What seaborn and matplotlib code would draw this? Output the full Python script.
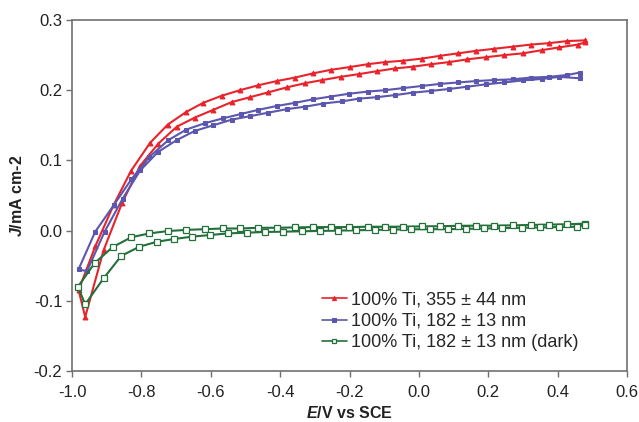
import numpy as np
import pandas as pd
import matplotlib
matplotlib.use("Agg")
import matplotlib.pyplot as plt
import seaborn as sns

# ---------------- data ----------------
# 100% Ti, 355 +/- 44 nm  (red)
red_up_x = [-0.981, -0.933, -0.880, -0.830, -0.775, -0.724, -0.671, -0.622, -0.569, -0.516,
            -0.463, -0.410, -0.357, -0.305, -0.254, -0.199, -0.148, -0.098, -0.045, 0.008,
            0.061, 0.113, 0.164, 0.217, 0.270, 0.323, 0.375, 0.428, 0.478]
red_up_y = [-0.085, -0.0225, 0.0365, 0.085, 0.125, 0.151, 0.169, 0.182, 0.192, 0.200,
            0.207, 0.213, 0.218, 0.224, 0.229, 0.233, 0.237, 0.240, 0.242, 0.245,
            0.249, 0.2525, 0.256, 0.259, 0.262, 0.265, 0.267, 0.270, 0.271]
red_lo_x = [-0.962, -0.909, -0.856, -0.804, -0.751, -0.698, -0.646, -0.593, -0.540, -0.487,
            -0.434, -0.381, -0.328, -0.278, -0.226, -0.172, -0.122, -0.069, -0.018, 0.035,
            0.087, 0.140, 0.193, 0.246, 0.300, 0.354, 0.404, 0.459, 0.478]
red_lo_y = [-0.123, -0.028, 0.039, 0.092, 0.124, 0.148, 0.161, 0.172, 0.183, 0.190,
            0.197, 0.204, 0.210, 0.2145, 0.219, 0.223, 0.227, 0.231, 0.2335, 0.237,
            0.240, 0.244, 0.247, 0.250, 0.2525, 0.257, 0.261, 0.265, 0.268]

# 100% Ti, 182 +/- 13 nm  (blue)
blue_up_x = [-0.981, -0.933, -0.880, -0.829, -0.777, -0.722, -0.670, -0.617, -0.564, -0.514,
             -0.463, -0.410, -0.357, -0.306, -0.254, -0.201, -0.148, -0.098, -0.045, 0.008,
             0.061, 0.113, 0.164, 0.217, 0.270, 0.323, 0.375, 0.428, 0.463]
blue_up_y = [-0.055, -0.0015, 0.036, 0.073, 0.105, 0.129, 0.144, 0.153, 0.160, 0.166,
             0.172, 0.1775, 0.182, 0.187, 0.191, 0.195, 0.198, 0.200, 0.203, 0.206,
             0.209, 0.211, 0.213, 0.2145, 0.2155, 0.218, 0.219, 0.2217, 0.225]
blue_lo_x = [-0.957, -0.906, -0.854, -0.803, -0.752, -0.698, -0.646, -0.593, -0.540, -0.487,
             -0.434, -0.381, -0.328, -0.276, -0.223, -0.172, -0.122, -0.069, -0.018, 0.035,
             0.087, 0.140, 0.193, 0.246, 0.300, 0.354, 0.404, 0.463]
blue_lo_y = [-0.058, -0.0015, 0.0455, 0.086, 0.112, 0.129, 0.142, 0.150, 0.158, 0.163,
             0.168, 0.173, 0.1765, 0.181, 0.184, 0.188, 0.190, 0.193, 0.1965, 0.199,
             0.2017, 0.205, 0.2084, 0.211, 0.214, 0.216, 0.219, 0.217]

# 100% Ti, 182 +/- 13 nm (dark)  (green)
green_up_x = [-0.983, -0.935, -0.883, -0.829, -0.777, -0.722, -0.670, -0.617, -0.566, -0.516,
              -0.463, -0.410, -0.357, -0.305, -0.254, -0.201, -0.148, -0.098, -0.045, 0.008,
              0.061, 0.113, 0.164, 0.217, 0.270, 0.323, 0.375, 0.428, 0.478]
green_up_y = [-0.080, -0.0465, -0.0235, -0.0095, -0.004, -0.0006, 0.001, 0.002, 0.003, 0.003,
              0.004, 0.004, 0.0045, 0.005, 0.005, 0.005, 0.0055, 0.0055, 0.0056, 0.006,
              0.0062, 0.0068, 0.007, 0.007, 0.0075, 0.008, 0.0085, 0.009, 0.010]
green_lo_x = [-0.962, -0.909, -0.858, -0.806, -0.756, -0.706, -0.655, -0.602, -0.550, -0.497,
              -0.444, -0.391, -0.338, -0.285, -0.232, -0.180, -0.127, -0.074, -0.022, 0.031,
              0.083, 0.136, 0.188, 0.240, 0.296, 0.350, 0.405, 0.455, 0.478]
green_lo_y = [-0.105, -0.068, -0.036, -0.023, -0.016, -0.012, -0.0087, -0.0063, -0.004, -0.003,
              -0.002, -0.0015, -0.001, -0.0005, 0.0, 0.0005, 0.001, 0.0015, 0.0018, 0.002,
              0.002, 0.0025, 0.003, 0.0035, 0.004, 0.0045, 0.005, 0.0055, 0.008]

labels = ["100% Ti, 355 \u00b1 44 nm",
          "100% Ti, 182 \u00b1 13 nm",
          "100% Ti, 182 \u00b1 13 nm (dark)"]
x_ticks = [-1.0, -0.8, -0.6, -0.4, -0.2, 0.0, 0.2, 0.4, 0.6]
y_ticks = [-0.2, -0.1, 0.0, 0.1, 0.2, 0.3]


def loop(up_x, up_y, lo_x, lo_y):
    # sweep: upper branch right->left, then lower branch left->right
    xs = list(reversed(up_x)) + list(lo_x)
    ys = list(reversed(up_y)) + list(lo_y)
    return pd.DataFrame({"E": xs, "J": ys})


sns.set_style("white")
plt.rcParams["font.family"] = ["Liberation Sans", "DejaVu Sans"]
plt.rcParams["mathtext.fontset"] = "custom"
plt.rcParams["mathtext.it"] = "Liberation Sans:italic:bold"
plt.rcParams["mathtext.rm"] = "Liberation Sans:bold"

fig = plt.figure(figsize=(6.39, 4.22), dpi=100)
ax = fig.add_axes([0.1127, 0.1209, 0.8686, 0.8317])

red = "#E8232B"
blue = "#5B57AE"
green = "#23703A"

styles = [
    (loop(red_up_x, red_up_y, red_lo_x, red_lo_y), red,
     dict(marker="^", markersize=3.5, markerfacecolor=red, markeredgecolor=red)),
    (loop(blue_up_x, blue_up_y, blue_lo_x, blue_lo_y), blue,
     dict(marker="s", markersize=3.5, markerfacecolor=blue, markeredgecolor=blue)),
    (loop(green_up_x, green_up_y, green_lo_x, green_lo_y), green,
     dict(marker="s", markersize=4, markerfacecolor="white", markeredgecolor=green,
          markeredgewidth=0.9)),
]

for (df, c, mk), lab in zip(styles, labels):
    sns.lineplot(data=df, x="E", y="J", sort=False, estimator=None, color=c,
                 linewidth=1.5, label=lab, ax=ax, **mk)

ax.set_xlim(-1.0, 0.6)
ax.set_ylim(-0.2, 0.3)
ax.set_xticks(x_ticks)
ax.set_yticks(y_ticks)
ax.set_xticklabels([f"{v:.1f}" for v in x_ticks])
ax.set_yticklabels([f"{v:.1f}" for v in y_ticks])
ax.tick_params(axis="both", which="both", direction="out", length=4, width=1,
               color="#707070", labelsize=12, labelcolor="#222222")
ax.tick_params(axis="x", pad=6)
ax.tick_params(axis="y", pad=3)
ax.tick_params(top=False, right=False, bottom=True, left=True)
for s in ax.spines.values():
    s.set_color("#707070")
    s.set_linewidth(1.2)

ax.set_xlabel(r"$\mathit{E}$/V vs SCE", fontsize=11.5, fontweight="bold",
              color="#222222", labelpad=4)
ax.set_ylabel(r"$\mathit{J}$/mA cm-2", fontsize=11.5, fontweight="bold",
              color="#222222", labelpad=6)

leg = ax.legend(loc="lower left", bbox_to_anchor=(0.437, 0.035), frameon=False,
                fontsize=13, handlelength=1.4, handletextpad=0.2,
                labelspacing=0.25, borderaxespad=0.0)
for line in leg.get_lines():
    line.set_linewidth(1.2)
    line.set_markersize(3)

fig.savefig("out.png", dpi=100)
